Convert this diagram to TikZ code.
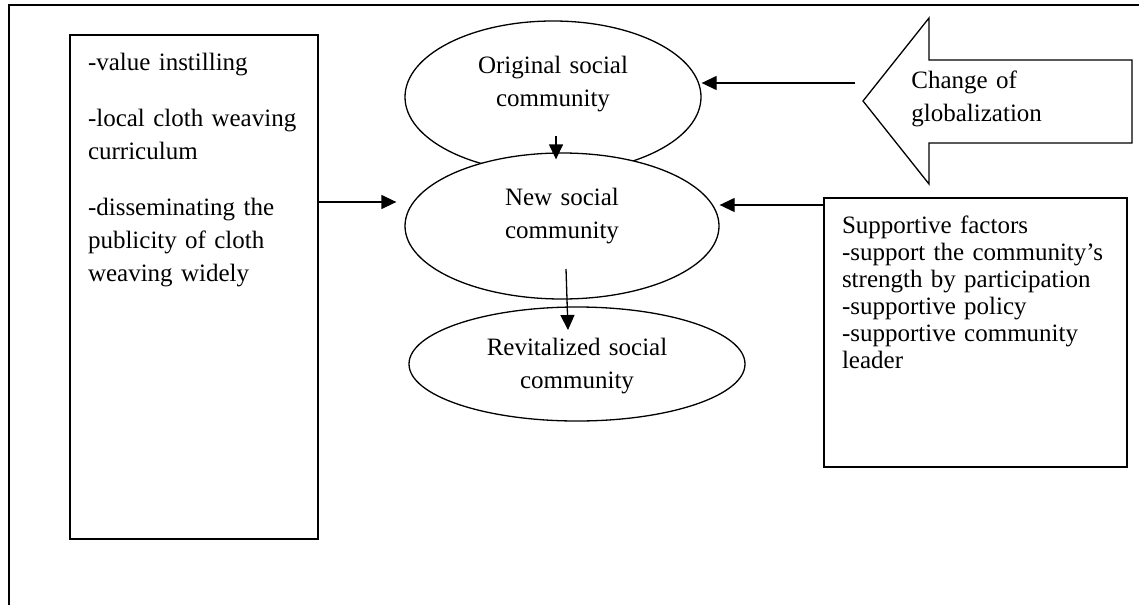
\documentclass[tikz,border=0pt]{standalone}
\usepackage{fontspec}
\setmainfont{Liberation Serif}
\usetikzlibrary{shapes.geometric}
\usetikzlibrary{arrows.meta}
\tikzset{
        text_serif/.style={font=\fontsize{12.5pt}{16.5pt}\selectfont},
        % Community stages
        node_community/.style={text_serif, ellipse, draw=black, fill=white, line width=0.65pt, inner sep=0pt, align=center, text width=100pt, text height=10pt},
        % Boxes of factors
        node_list/.style={text_serif, rectangle, draw=black, line width=0.65pt, align=left, inner xsep=9pt, inner ysep=0pt, text height=17.5pt},
        % Influences
        edge_flow/.style={-{Triangle[length=7.5pt,width=7pt]}, line width=0.65pt}
}

\begin{document}
\begin{tikzpicture}[x=0.5pt, y=-0.5pt]
    \useasboundingbox (0,0) rectangle (1139,605);
    \draw[line width=0.65pt] (9,605) -- (9,5) -- (1139,5);

    \node[node_list, text width=106pt, text depth=234.5pt] (values) at (194,287)
        {-value instilling\\[11.5pt]%
         -local cloth weaving\\%
         curriculum\\[11.5pt]%
         -disseminating the\\%
         publicity of cloth\\%
         weaving widely};
    \node[node_list, text width=133.5pt, text depth=117pt, font=\fontsize{12.5pt}{13.5pt}\selectfont] (support) at (975.5,332.5)
        {Supportive factors\\%
         -support the community's\\%
         strength by participation\\%
         -supportive policy\\%
         -supportive community\\%
         leader};

    \node[node_community, minimum width=148pt, minimum height=76pt, text depth=34pt] (orig_comm) at (553,97) {Original social\\community};
    \node[node_community, minimum width=157pt, minimum height=73pt, text depth=31pt] (new_comm) at (562,226) {New social\\community};
    \node[node_community, minimum width=168pt, minimum height=57pt, text depth=19pt] (revit_comm) at (577,364) {Revitalized social\\community};

    % globalization arrow
    \draw[line width=0.65pt] (863,101) -- (929,18) -- (929,60) -- (1132,60) -- (1132,143)
        -- (929,143) -- (929,184) -- cycle;
    \node[text_serif, text width=70pt, align=left, inner sep=0pt, anchor=base west] (glob) at (911,88) {Change of\\globalization};

    \coordinate (glob_tail) at (855,83);
    \coordinate (orig_tail) at (556,136);
    \coordinate (new_tail) at (566,269);
    \coordinate (revit_head) at (568,330);
    \draw[edge_flow] (glob_tail) -- (orig_comm.east |- glob_tail);
    \draw[edge_flow, shorten >=-3.5pt] (orig_tail) -- (orig_tail |- new_comm.north);
    \draw[edge_flow, shorten >=4pt] (values.east |- 0,202) -- (new_comm.west |- 0,202);
    \draw[edge_flow] (support.west |- 0,205) -- (new_comm.east |- 0,205);
    \draw[edge_flow] (new_tail) -- (revit_head);
\end{tikzpicture}
\end{document}
